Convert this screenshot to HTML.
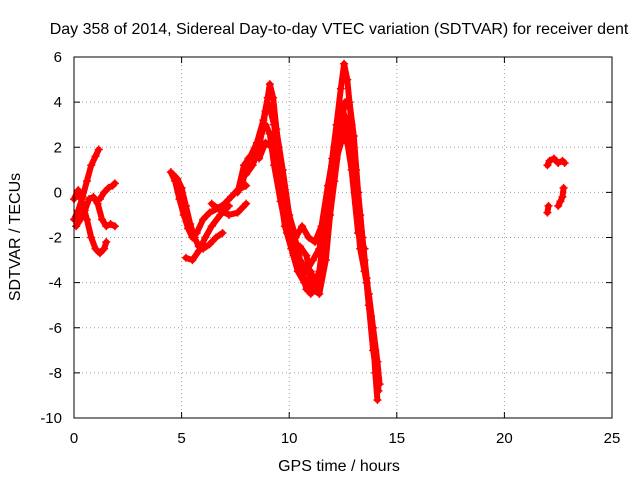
<!DOCTYPE html>
<html><head><meta charset="utf-8"><style>
body{margin:0;background:#fff}
svg{display:block;font-family:"Liberation Sans",sans-serif}
</style></head><body>
<svg id="chart" width="640" height="480">
<rect width="640" height="480" fill="#fff"/>
<g id="grid"></g>
<g id="ticks"></g>
<g id="marks"></g>
<rect x="74" y="57" width="538" height="361" fill="none" stroke="#000" stroke-width="1"/>
<text x="339" y="34" font-size="16" text-anchor="middle">Day 358 of 2014, Sidereal Day-to-day VTEC variation (SDTVAR) for receiver dent</text>
<text x="339" y="471" font-size="16" text-anchor="middle">GPS time / hours</text>
<text x="20" y="237" font-size="16" text-anchor="middle" transform="rotate(-90 20 237)">SDTVAR / TECUs</text>
</svg>
<script>
const xTicks=[0,5,10,15,20,25];
const yTicks=[-10,-8,-6,-4,-2,0,2,4,6];
const track1=[[0,-1.2],[0.2,-0.8],[0.4,-0.2],[0.6,0.5],[0.8,1.2],[1.0,1.6],[1.15,1.9]];
const track2=[[0,-0.3],[0.2,0.1],[0.4,-0.5],[0.6,-1.2],[0.8,-2],[1.0,-2.5],[1.2,-2.7],[1.4,-2.5],[1.5,-2.2]];
const track3=[[0.1,-1.5],[0.3,-1.2],[0.5,-0.8],[0.7,-0.3],[0.9,-0.2],[1.1,-0.5],[1.3,-1.2],[1.5,-1.5],[1.7,-1.4],[1.9,-1.5]];
const track4=[[1.2,-0.3],[1.4,0],[1.6,0.2],[1.8,0.3],[1.9,0.4]];
const track5=[[4.5,0.9],[4.7,0.5],[4.9,-0.3],[5.1,-1.0],[5.3,-1.6],[5.5,-2],[5.7,-1.8],[6.0,-1.2],[6.3,-0.9],[6.7,-0.7],[7.0,-0.5],[7.3,-0.2],[7.6,0.1],[8,0.3]];
const track6=[[4.6,0.8],[4.8,0.6],[5.0,0.2],[5.2,-0.6],[5.4,-1.4],[5.6,-2.0],[5.8,-2.4],[6.0,-2.5],[6.3,-2.3],[6.6,-2.0],[6.9,-1.8]];
const track7=[[5.2,-2.9],[5.5,-3.0],[5.8,-2.6],[6.1,-2.0],[6.4,-1.5],[6.8,-1.0],[7.2,-0.6]];
const track8=[[6.4,-0.5],[6.8,-0.8],[7.2,-1.0],[7.6,-0.9],[8,-0.5]];
const track9=[[7.6,0],[7.9,1.2],[8.2,1.6],[8.5,2.2],[8.8,3.2],[9.0,4.2],[9.1,4.8],[9.25,4.2],[9.5,2],[9.8,0],[10.1,-1.5],[10.4,-2.5],[10.6,-3.5],[10.8,-4.3],[11.0,-3.5],[11.2,-4],[11.4,-3.5],[11.6,-2],[11.8,0],[12.0,1.5],[12.2,3],[12.4,4.6],[12.55,5.7],[12.7,5],[12.9,3],[13.1,1],[13.3,-1],[13.5,-3],[13.7,-5],[13.9,-6.5],[14.0,-8],[14.1,-9.2]];
const track10=[[7.8,0.3],[8.1,1.5],[8.4,1.8],[8.7,2.6],[8.9,3],[9.1,2.6],[9.3,1.2],[9.6,-0.4],[9.9,-1.8],[10.2,-2.8],[10.5,-2.4],[10.8,-2.8],[11.1,-4.3],[11.4,-4.5],[11.7,-3],[11.9,-1],[12.1,0.5],[12.3,2],[12.5,3.5],[12.7,3.2],[12.9,2],[13.1,-0.5],[13.3,-2.5],[13.5,-3.5],[13.7,-4.5],[13.9,-6],[14.1,-7.5],[14.2,-8.5]];
const track11=[[9.2,3.8],[9.4,2.8],[9.7,1],[10,-1],[10.3,-2],[10.6,-1.5],[10.9,-2],[11.2,-2.2],[11.5,-1.5],[11.8,0.3],[12.1,2],[12.4,3.5],[12.6,2.8],[12.9,1],[13.2,-1.8],[13.5,-2.5]];
const track12=[[22.0,1.2],[22.1,1.4],[22.3,1.5],[22.5,1.3],[22.7,1.4],[22.8,1.3]];
const track13=[[22,-0.9],[22.05,-0.6]];
const track14=[[22.5,-0.6],[22.6,-0.4],[22.7,-0.2],[22.75,0.2]];
const track15=[[8.0,0.8],[8.3,1.2],[8.6,2.0],[8.9,3.6],[9.05,3.9],[9.3,3.0],[9.6,1.0],[9.9,-1.0],[10.2,-2.0],[10.5,-3.0],[10.8,-3.5],[11.1,-3.0],[11.4,-2.5],[11.7,-1.0],[12.0,0.5],[12.3,2.5],[12.6,4.0],[12.8,4.0],[13.0,2.5],[13.2,0],[13.4,-2],[13.6,-3.8],[13.8,-5.5],[14.0,-7],[14.15,-8.8]];
const track16=[[8.6,1.5],[8.9,2.2],[9.2,2.0],[9.5,0.5],[9.8,-1.5],[10.1,-2.5],[10.4,-3.5],[10.7,-4.0],[11.0,-4.5],[11.3,-4.2],[11.6,-2.8],[11.9,-0.5],[12.2,1.5],[12.5,2.5],[12.8,2.0],[13.0,0.5],[13.3,-1.5],[13.6,-4.0],[13.9,-7.0],[14.1,-8.2]];
const tracks=[track1,track2,track3,track4,track5,track6,track7,track8,track9,track10,track11,track12,track13,track14,track15,track16];

const NS="http://www.w3.org/2000/svg";
const X0=74,X1=612,Y0=418,Y1=57;
const xs=v=>X0+(v-0)/(25-0)*(X1-X0);
const ys=v=>Y0-(v+10)/16*(Y0-Y1);
function mk(tag,attrs,parent){const e=document.createElementNS(NS,tag);for(const k in attrs)e.setAttribute(k,attrs[k]);parent.appendChild(e);return e;}
const grid=document.getElementById('grid'),ticks=document.getElementById('ticks'),marks=document.getElementById('marks');
xTicks.forEach(t=>{const x=xs(t);
 if(t>0&&t<25){const g=mk('line',{x1:x,x2:x,y1:Y1,y2:Y0,stroke:'#a0a0a0','stroke-dasharray':'1,3'},grid);
 
 }
 mk('line',{x1:x,x2:x,y1:Y0,y2:Y0-6,stroke:'#000'},ticks);
 mk('line',{x1:x,x2:x,y1:Y1,y2:Y1+6,stroke:'#000'},ticks);
 const l=mk('text',{x:x,y:Y0+25,'font-size':15,'text-anchor':'middle'},ticks);l.textContent=t;
 
 
});
yTicks.forEach(t=>{const y=ys(t);
 if(t>-10&&t<6){const g=mk('line',{x1:X0,x2:X1,y1:y,y2:y,stroke:'#a0a0a0','stroke-dasharray':'1,3'},grid);
 
 }
 mk('line',{x1:X0,x2:X0+6,y1:y,y2:y,stroke:'#000'},ticks);
 mk('line',{x1:X1,x2:X1-6,y1:y,y2:y,stroke:'#000'},ticks);
 const l=mk('text',{x:X0-12,y:y+5,'font-size':15,'text-anchor':'end'},ticks);l.textContent=t;
 
 
});
tracks.forEach((tr,i)=>{
 const pts=tr.map(p=>xs(p[0]).toFixed(1)+','+ys(p[1]).toFixed(1)).join(' ');
 const pl=mk('polyline',{points:pts,fill:'none',stroke:'#f00','stroke-width':6,'stroke-linejoin':'round','stroke-linecap':'round'},marks);
 
 
 tr.forEach(p=>{const x=xs(p[0]),y=ys(p[1]);
  const m=mk('path',{d:`M${x-4},${y}H${x+4}M${x},${y-4}V${y+4}`,stroke:'#f00','stroke-width':1.5},marks);
  
  
 });
});
</script>
</body></html>
